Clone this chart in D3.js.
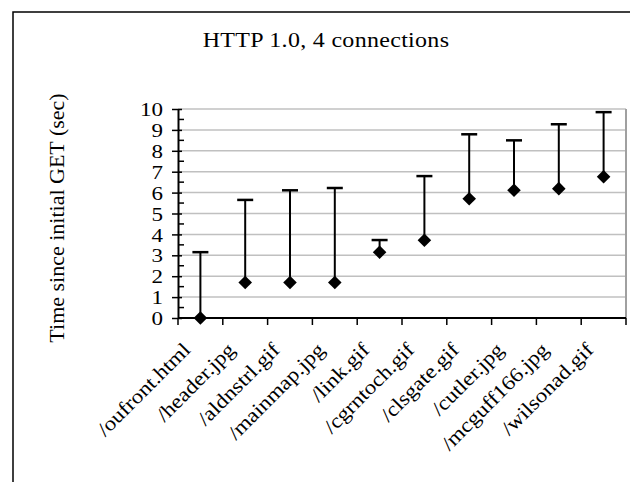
<!DOCTYPE html>
<html>
<head>
<meta charset="utf-8">
<script src="https://cdn.jsdelivr.net/npm/d3@7"></script>
<style>
  body { margin: 0; background: #fff; }
  text { font-family: 'Liberation Serif', 'Times New Roman', serif; fill: #000; }
</style>
</head>
<body>
<div id="chart"></div>
<script>
// Files fetched, with start and end times in seconds
const files = ['/oufront.html', '/header.jpg', '/aldnstrl.gif', '/mainmap.jpg', '/link.gif',
               '/cgrntoch.gif', '/clsgate.gif', '/cutler.jpg', '/mcguff166.jpg', '/wilsonad.gif'];
const startTimes = [0, 1.7, 1.7, 1.7, 3.15, 3.72, 5.71, 6.11, 6.19, 6.76];
const endTimes = [3.15, 5.65, 6.11, 6.22, 3.73, 6.79, 8.79, 8.5, 9.27, 9.85];
const yTicks = [0, 1, 2, 3, 4, 5, 6, 7, 8, 9, 10];

const data = files.map( function( f, i ) {
  return { name: f, start: startTimes[i], end: endTimes[i] };
});

const W = 630, H = 482;
const margin = { top: 109, right: 4, bottom: 164, left: 178 },
    width = W - margin.left - margin.right,
    height = H - margin.top - margin.bottom;

const svg = d3.select( '#chart' )
  .append( 'svg' )
    .attr( 'width', W )
    .attr( 'height', H );

// outer chart border (right and bottom run off the picture)
svg.append( 'rect' )
    .attr( 'x', 13 ).attr( 'y', 12 )
    .attr( 'width', 640 ).attr( 'height', 500 )
    .attr( 'fill', 'none' )
    .attr( 'stroke', '#000' )
    .attr( 'stroke-width', 1.5 );

// title (the source renders its text a little squat)
svg.append( 'text' )
    .attr( 'transform', 'translate( 326, 47 ) scale( 1, 0.83 )' )
    .attr( 'text-anchor', 'middle' )
    .style( 'font-size', '24px' )
    .style( 'letter-spacing', '0.3px' )
    .text( 'HTTP 1.0, 4 connections' );

svg.append( 'text' )
    .attr( 'transform', 'translate( 64, 218 ) rotate( -90 )' )
    .attr( 'text-anchor', 'middle' )
    .style( 'font-size', '22px' )
    .text( 'Time since initial GET (sec)' );

const g = svg.append( 'g' )
    .attr( 'transform', 'translate( ' + margin.left + ', ' + margin.top + ' )' );

const x = d3.scaleBand()
    .domain( files )
    .range( [0, width] )
    .padding( 0 );

const y = d3.scaleLinear()
    .domain( [0, 10] )
    .range( [height, 0] );

// gridlines
g.selectAll( 'line.grid' )
  .data( yTicks.filter( function( t ){ return t > 0; } ) )
  .enter()
  .append( 'line' )
    .attr( 'class', 'grid' )
    .attr( 'x1', 0 ).attr( 'x2', width )
    .attr( 'y1', function( d ){ return y( d ); } )
    .attr( 'y2', function( d ){ return y( d ); } )
    .attr( 'stroke', '#c0c0c0' )
    .attr( 'stroke-width', 1.5 );

// right border of plot area
g.append( 'line' )
    .attr( 'x1', width ).attr( 'x2', width )
    .attr( 'y1', y( 10 ) ).attr( 'y2', y( 0 ) )
    .attr( 'stroke', '#a0a0a0' )
    .attr( 'stroke-width', 2 );

// minor ticks (inside)
g.selectAll( 'line.minor' )
  .data( yTicks.slice( 0, -1 ) )
  .enter()
  .append( 'line' )
    .attr( 'class', 'minor' )
    .attr( 'x1', 0 ).attr( 'x2', 6 )
    .attr( 'y1', function( d ){ return y( d + 0.5 ); } )
    .attr( 'y2', function( d ){ return y( d + 0.5 ); } )
    .attr( 'stroke', '#000' )
    .attr( 'stroke-width', 1.5 );

// Y axis
const yAxis = g.append( 'g' )
    .call( d3.axisLeft( y ).tickValues( yTicks ).tickSize( 6 ).tickSizeOuter( 0 ).tickPadding( 9 ) );
yAxis.select( '.domain' ).attr( 'stroke-width', 2 );
yAxis.selectAll( '.tick line' ).attr( 'x1', 4 ).attr( 'stroke-width', 1.5 );
yAxis.selectAll( '.tick text' )
    .attr( 'transform', 'scale( 1, 0.8 )' )
    .attr( 'dy', '0.36em' )
    .style( 'font-size', '23px' )
    .style( 'font-family', "'Liberation Serif', serif" );

// X axis line and ticks at category boundaries
g.append( 'line' )
    .attr( 'x1', 0 ).attr( 'x2', width )
    .attr( 'y1', height ).attr( 'y2', height )
    .attr( 'stroke', '#000' )
    .attr( 'stroke-width', 2 );

const bounds = files.map( function( f ){ return x( f ); } ).concat( [ x.range()[1] ] );
g.selectAll( 'line.xtick' )
  .data( bounds )
  .enter()
  .append( 'line' )
    .attr( 'class', 'xtick' )
    .attr( 'x1', function( d ){ return d; } )
    .attr( 'x2', function( d ){ return d; } )
    .attr( 'y1', height ).attr( 'y2', height + 7 )
    .attr( 'stroke', '#000' )
    .attr( 'stroke-width', 1.5 );

g.selectAll( 'text.xlabel' )
  .data( files )
  .enter()
  .append( 'text' )
    .attr( 'class', 'xlabel' )
    .attr( 'text-anchor', 'end' )
    .attr( 'transform', function( d ){
      return 'translate( ' + ( x( d ) + x.bandwidth() / 2 - 9 ) + ', ' + ( height + 33 ) + ' ) rotate( -45 ) scale( 1, 0.88 )';
    })
    .style( 'font-size', '23px' )
    .text( function( d ){ return d; } );

// ranges
const cx = function( d ){ return x( d.name ) + x.bandwidth() / 2; };

g.selectAll( 'line.range' )
  .data( data )
  .enter()
  .append( 'line' )
    .attr( 'class', 'range' )
    .attr( 'x1', cx ).attr( 'x2', cx )
    .attr( 'y1', function( d ){ return y( d.start ); } )
    .attr( 'y2', function( d ){ return y( d.end ); } )
    .attr( 'stroke', '#000' )
    .attr( 'stroke-width', 2 );

g.selectAll( 'line.cap' )
  .data( data )
  .enter()
  .append( 'line' )
    .attr( 'class', 'cap' )
    .attr( 'x1', function( d ){ return cx( d ) - 8; } )
    .attr( 'x2', function( d ){ return cx( d ) + 8; } )
    .attr( 'y1', function( d ){ return y( d.end ); } )
    .attr( 'y2', function( d ){ return y( d.end ); } )
    .attr( 'stroke', '#000' )
    .attr( 'stroke-width', 2.5 );

g.selectAll( 'path.marker' )
  .data( data )
  .enter()
  .append( 'path' )
    .attr( 'class', 'marker' )
    .attr( 'd', d3.symbol( d3.symbolSquare, 92 ) )
    .attr( 'transform', function( d ){ return 'translate( ' + cx( d ) + ', ' + y( d.start ) + ' ) rotate( 45 )'; })
    .attr( 'fill', '#000' );
</script>
</body>
</html>
